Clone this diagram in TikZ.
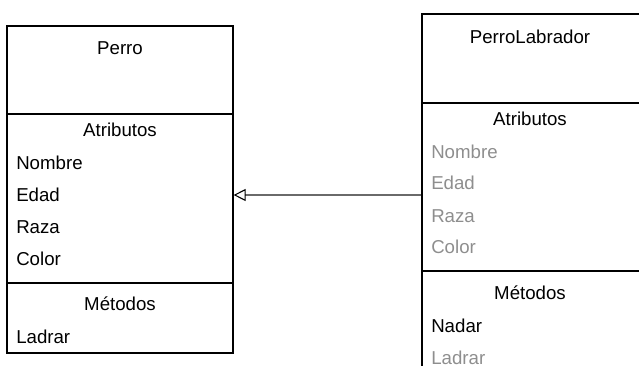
\documentclass[tikz,border=0pt]{standalone}
\usepackage{fontspec}
\setmainfont{Liberation Sans}
\usetikzlibrary{arrows.meta}
\definecolor{inherited}{HTML}{8E8E8E}
\definecolor{linkgray}{HTML}{6A6A6A}
\tikzset{
  classbox/.style={draw=black, line width=0.9pt, rectangle, inner sep=0pt},
  divider/.style={draw=black, line width=0.9pt},
  member/.style={anchor=west, inner sep=0pt, font=\fontsize{14}{16}\selectfont},
  heading/.style={anchor=center, inner sep=0pt, font=\fontsize{14}{16}\selectfont},
  inheritedmember/.style={member, text=inherited},
  generalization/.style={draw=linkgray, line width=0.9pt,
    -{Triangle[open, length=9pt, width=9pt, line width=0.8pt, color=black]}}
}
\begin{document}
\begin{tikzpicture}[x=0.75pt,y=-0.75pt]
\path[use as bounding box, clip] (0,0) rectangle (639,365);

% Base class
\node[classbox, minimum width=169.5pt, minimum height=245.25pt] (perro) at (120,189.5) {};
\draw[divider] (perro.west |- 0,114) -- (perro.east |- 0,114);
\draw[divider] (perro.west |- 0,283) -- (perro.east |- 0,283);
\node[heading] (perroName) at (120,48) {Perro};
\node[heading] (perroAttr) at (120,130) {Atributos};
\node[member] (pNombre) at (16,163) {Nombre};
\node[member] (pEdad) at (16,195) {Edad};
\node[member] (pRaza) at (16,227) {Raza};
\node[member] (pColor) at (16,259) {Color};
\node[heading] (perroMeth) at (120,304) {Métodos};
\node[member] (pLadrar) at (16,337) {Ladrar};

% Derived class (continues past the frame)
\node[classbox, minimum width=178.5pt, minimum height=274.5pt] (labrador) at (541,197) {};
\draw[divider] (labrador.west |- 0,103) -- (labrador.east |- 0,103);
\draw[divider] (labrador.west |- 0,271) -- (labrador.east |- 0,271);
\node[heading] (labName) at (530,37) {PerroLabrador};
\node[heading] (labAttr) at (530,119) {Atributos};
\node[inheritedmember] (lNombre) at (431,152) {Nombre};
\node[inheritedmember] (lEdad) at (431,183) {Edad};
\node[inheritedmember] (lRaza) at (431,216) {Raza};
\node[inheritedmember] (lColor) at (431,247) {Color};
\node[heading] (labMeth) at (530,293) {Métodos};
\node[member] (lNadar) at (431,326) {Nadar};
\node[inheritedmember] (lLadrar) at (431,358) {Ladrar};

% Inheritance link
\draw[generalization] (labrador.west |- 0,195) -- (perro.east |- 0,195);
\end{tikzpicture}
\end{document}
